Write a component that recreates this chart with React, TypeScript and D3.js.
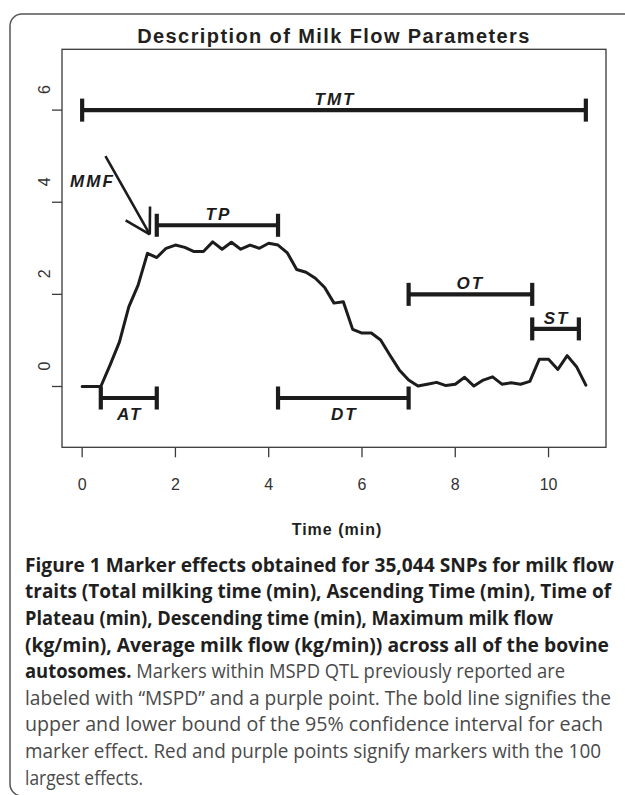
import * as d3 from "d3";

// milk flow curve, sampled every 0.2 min
const time = [
  0, 0.2, 0.4, 0.6, 0.8, 1.0, 1.2, 1.4, 1.6, 1.8, 2.0, 2.2, 2.4, 2.6, 2.8,
  3.0, 3.2, 3.4, 3.6, 3.8, 4.0, 4.2, 4.4, 4.6, 4.8, 5.0, 5.2, 5.4, 5.6, 5.8,
  6.0, 6.2, 6.4, 6.6, 6.8, 7.0, 7.2, 7.4, 7.6, 7.8, 8.0, 8.2, 8.4, 8.6, 8.8,
  9.0, 9.2, 9.4, 9.6, 9.8, 10.0, 10.2, 10.4, 10.6, 10.8,
];
const flow = [
  0, 0, 0, 0.47, 0.97, 1.73, 2.2, 2.89, 2.8, 3.0, 3.07, 3.02, 2.93, 2.93, 3.14,
  2.98, 3.13, 2.98, 3.07, 3.0, 3.11, 3.07, 2.9, 2.54, 2.48, 2.35, 2.15, 1.81,
  1.84, 1.24, 1.16, 1.16, 1.01, 0.68, 0.36, 0.14, 0.01, 0.05, 0.09, 0.02, 0.05,
  0.2, 0.01, 0.14, 0.21, 0.05, 0.08, 0.05, 0.11, 0.59, 0.59, 0.37, 0.67, 0.43,
  0.03,
];

const xTicks = [0, 2, 4, 6, 8, 10];
const yTicks = [0, 2, 4, 6];

// interval brackets
const bracketNames = ["TMT", "TP", "AT", "DT", "OT", "ST"];
const bracketStart = [0, 1.6, 0.4, 4.2, 7.0, 9.65];
const bracketEnd = [10.8, 4.2, 1.6, 7.0, 9.65, 10.65];
const bracketLevel = [6.0, 3.5, -0.25, -0.25, 2.0, 1.25];
const labelX = [5.4, 2.9, 1.0, 5.6, 8.3, 10.15];
const labelY = [6.11, 3.61, -0.73, -0.73, 2.11, 1.36];
const capHalf = 0.25;

// maximum milk flow arrow
const arrowFrom = [0.5, 5.0];
const arrowTo = [1.45, 3.3];
const mmfLabel = [0.2, 4.32];

const captionLines: [string, string][] = [
  ["Figure 1 Marker effects obtained for 35,044 SNPs for milk flow", ""],
  ["traits (Total milking time (min), Ascending Time (min), Time of", ""],
  ["Plateau (min), Descending time (min), Maximum milk flow", ""],
  ["(kg/min), Average milk flow (kg/min)) across all of the bovine", ""],
  ["autosomes.", " Markers within MSPD QTL previously reported are"],
  ["", "labeled with \u201cMSPD\u201d and a purple point. The bold line signifies the"],
  ["", "upper and lower bound of the 95% confidence interval for each"],
  ["", "marker effect. Red and purple points signify markers with the 100"],
  ["", "largest effects."],
];
const captionRight = [614, 611, 553, 609, 565, 611, 603, 601, 143];

const W = 625;
const H = 795;
const plot = { left: 62, right: 606, top: 49.3, bottom: 447.3 };

// R style 4% padding
const pad = (lo: number, hi: number) => {
  const d = (hi - lo) * 0.04;
  return [lo - d, hi + d];
};

export default function App() {
  const x = d3.scaleLinear().domain(pad(0, 10.8)).range([plot.left, plot.right]);
  const y = d3.scaleLinear().domain(pad(-1, 7)).range([plot.bottom, plot.top]);

  const line = d3
    .line<number>()
    .x((_, i) => x(time[i]))
    .y((d) => y(d));

  const ink = "#1c1c1c";
  const labelFont = {
    fontFamily: "'Liberation Sans', Arial, sans-serif",
    fontWeight: 700,
    fontStyle: "italic",
    fontSize: 17,
    letterSpacing: 2,
  } as const;

  // arrowhead barbs
  const ax0 = x(arrowFrom[0]);
  const ay0 = y(arrowFrom[1]);
  const ax1 = x(arrowTo[0]);
  const ay1 = y(arrowTo[1]);
  const ang = Math.atan2(ay1 - ay0, ax1 - ax0) + Math.PI;
  const headLen = 28;
  const barbs = [ang - Math.PI / 6, ang + Math.PI / 6].map((a) => [
    ax1 + headLen * Math.cos(a),
    ay1 + headLen * Math.sin(a),
  ]);

  return (
    <svg
      width={W}
      height={H}
      style={{ position: "absolute", left: 0, top: 0, background: "#fff" }}
    >
      {/* outer frame */}
      <rect x={10} y={14} width={700} height={782} rx={12} fill="none" stroke="#555" strokeWidth={1.5} />

      <text
        x={(plot.left + plot.right) / 2}
        y={42.7}
        textAnchor="middle"
        fontFamily="'Liberation Sans', Arial, sans-serif"
        fontWeight={700}
        fontSize={20}
        letterSpacing={1.4}
        fill="#231f20"
      >
        Description of Milk Flow Parameters
      </text>

      <rect
        x={plot.left}
        y={plot.top}
        width={plot.right - plot.left}
        height={plot.bottom - plot.top}
        fill="none"
        stroke="#3a3a3a"
        strokeWidth={1.3}
      />

      {/* x axis */}
      {xTicks.map((t) => (
        <g key={`xt${t}`}>
          <line x1={x(t)} x2={x(t)} y1={plot.bottom} y2={plot.bottom + 10} stroke="#3a3a3a" strokeWidth={1.3} />
          <text
            x={x(t)}
            y={490}
            textAnchor="middle"
            fontFamily="'Liberation Sans', Arial, sans-serif"
            fontSize={16}
            fill="#333"
          >
            {t}
          </text>
        </g>
      ))}
      <text
        x={(plot.left + plot.right) / 2 + 3}
        y={535}
        textAnchor="middle"
        fontFamily="'Liberation Sans', Arial, sans-serif"
        fontWeight={700}
        fontSize={16}
        letterSpacing={1}
        fill="#231f20"
      >
        Time (min)
      </text>

      {/* y axis */}
      {yTicks.map((v) => (
        <g key={`yt${v}`}>
          <line x1={plot.left - 10} x2={plot.left} y1={y(v)} y2={y(v)} stroke="#3a3a3a" strokeWidth={1.3} />
          <text
            transform={`translate(50,${y(v) - 20.5}) rotate(-90)`}
            textAnchor="middle"
            fontFamily="'Liberation Sans', Arial, sans-serif"
            fontSize={16}
            fill="#333"
          >
            {v}
          </text>
        </g>
      ))}

      {/* flow curve */}
      <path
        d={line(flow) || ""}
        fill="none"
        stroke={ink}
        strokeWidth={3}
        strokeLinejoin="round"
        strokeLinecap="round"
      />

      {/* brackets */}
      {bracketNames.map((name, i) => (
        <g key={name}>
          <line
            x1={x(bracketStart[i])}
            x2={x(bracketEnd[i])}
            y1={y(bracketLevel[i])}
            y2={y(bracketLevel[i])}
            stroke={ink}
            strokeWidth={4.2}
          />
          {[bracketStart[i], bracketEnd[i]].map((e, k) => (
            <line
              key={k}
              x1={x(e)}
              x2={x(e)}
              y1={y(bracketLevel[i] + capHalf)}
              y2={y(bracketLevel[i] - capHalf)}
              stroke={ink}
              strokeWidth={4.2}
            />
          ))}
          <text x={x(labelX[i]) + 1} y={y(labelY[i])} textAnchor="middle" fill={ink} {...labelFont}>
            {name}
          </text>
        </g>
      ))}

      {/* MMF arrow */}
      <line x1={ax0} y1={ay0} x2={ax1} y2={ay1} stroke={ink} strokeWidth={2.6} />
      {barbs.map((b, i) => (
        <line key={i} x1={ax1} y1={ay1} x2={b[0]} y2={b[1]} stroke={ink} strokeWidth={2.6} />
      ))}
      <text x={x(mmfLabel[0]) + 1} y={y(mmfLabel[1])} textAnchor="middle" fill={ink} {...labelFont}>
        MMF
      </text>

      {/* caption */}
      {captionLines.map(([b, r], i) => (
        <text
          key={i}
          x={25}
          y={571.7 + 26.6 * i}
          textLength={captionRight[i] - 25}
          lengthAdjust="spacingAndGlyphs"
          fontFamily="'Open Sans', 'Noto Sans', sans-serif"
          fontSize={19.5}
        >
          {b && (
            <tspan fontWeight={700} fill="#1f1f1f">
              {b}
            </tspan>
          )}
          {r && (
            <tspan fontWeight={400} fill="#4a4a4a">
              {r}
            </tspan>
          )}
        </text>
      ))}
    </svg>
  );
}
